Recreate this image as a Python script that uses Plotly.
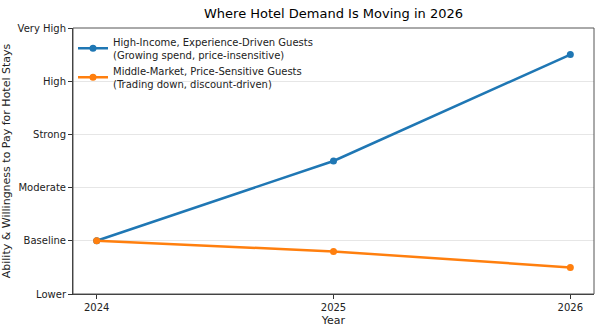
import plotly.graph_objects as go

years = [2024, 2025, 2026]
high_income = [1.0, 2.5, 4.5]
middle_market = [1.0, 0.8, 0.5]
tick_vals = [0, 1, 2, 3, 4, 5]
tick_text = ["Lower", "Baseline", "Moderate", "Strong", "High", "Very High"]
names = [
    "High-Income, Experience-Driven Guests<br>(Growing spend, price-insensitive)",
    "Middle-Market, Price-Sensitive Guests<br>(Trading down, discount-driven)",
]

fig = go.Figure()
fig.add_trace(go.Scatter(x=years, y=high_income, mode="lines+markers", name=names[0],
                         line=dict(color="#1f77b4", width=2.5), marker=dict(size=7)))
fig.add_trace(go.Scatter(x=years, y=middle_market, mode="lines+markers", name=names[1],
                         line=dict(color="#ff7f0e", width=2.5), marker=dict(size=7)))

fig.add_shape(type="rect", xref="paper", yref="paper", x0=0, y0=0, x1=1, y1=1,
              line=dict(color="#555555", width=1), layer="above")

fig.update_layout(
    width=600, height=331,
    margin=dict(l=73, r=6, t=28, b=37),
    paper_bgcolor="white", plot_bgcolor="white",
    font=dict(family="DejaVu Sans", size=10, color="#222222"),
    title=dict(text="Where Hotel Demand Is Moving in 2026", x=0.5, xref="paper", xanchor="center",
               y=0.96, yanchor="middle", font=dict(size=13, color="black")),
    showlegend=True,
    legend=dict(x=0.0, y=0.997, xanchor="left", yanchor="top", bgcolor="rgba(255,255,255,0)",
                font=dict(size=10), itemwidth=30),
    xaxis=dict(range=[2023.9, 2026.1], tickvals=years, ticktext=[str(y) for y in years],
               showgrid=False, zeroline=False, showline=True, linecolor="#333333", linewidth=1,
               ticks="outside", ticklen=4, tickcolor="#333333",
               title=dict(text="Year", font=dict(size=11), standoff=4)),
    yaxis=dict(range=[0, 5], tickvals=tick_vals, ticktext=tick_text,
               showgrid=True, gridcolor="#e6e6e6", gridwidth=1, zeroline=False,
               showline=True, linecolor="#333333", linewidth=1,
               ticks="outside", ticklen=4, tickcolor="#333333",
               title=dict(text="Ability & Willingness to Pay for Hotel Stays", font=dict(size=11), standoff=4)),
)

fig.write_html("out.html")
